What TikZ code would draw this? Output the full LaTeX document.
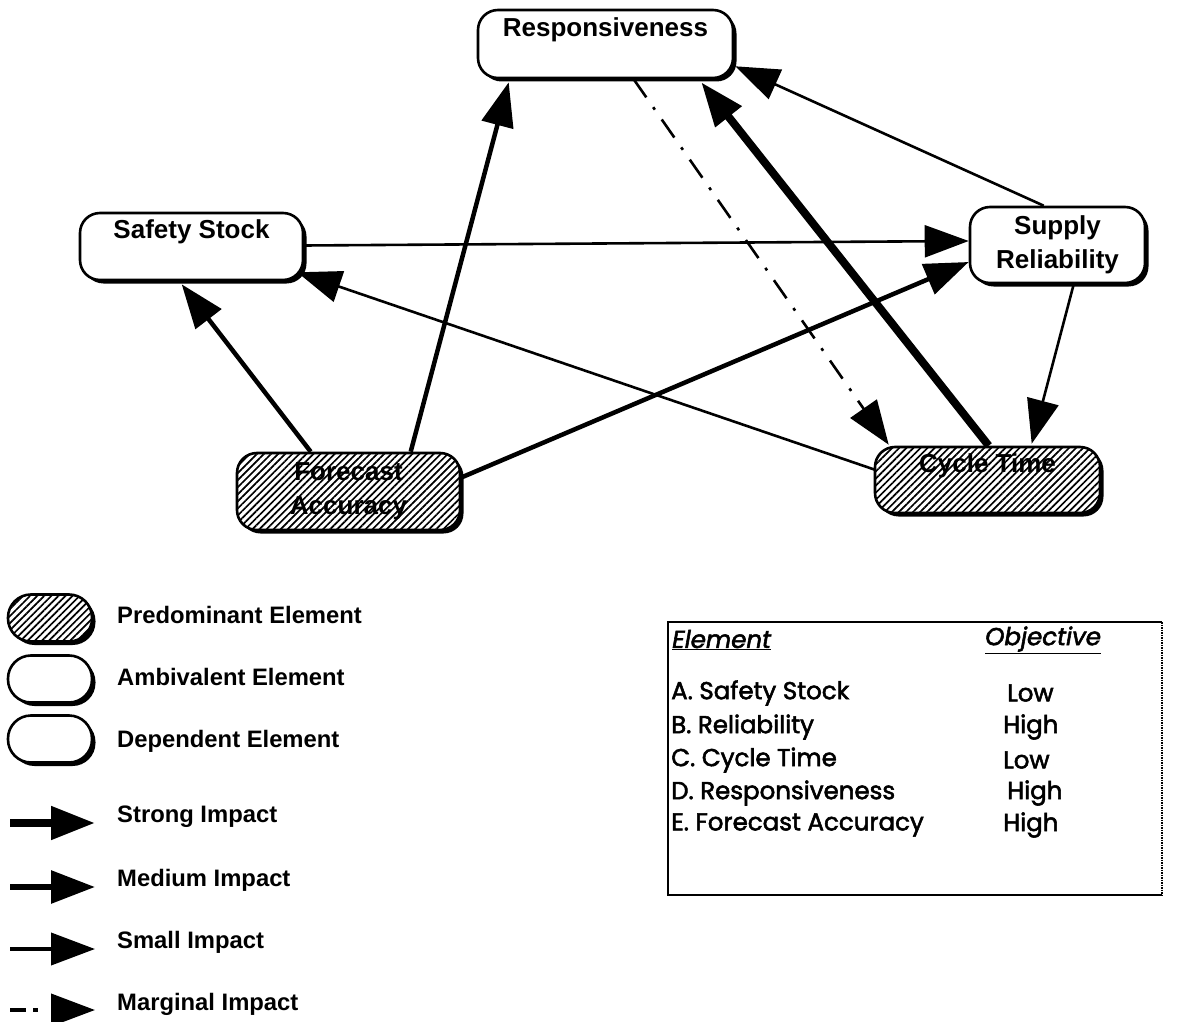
\documentclass[tikz,border=0pt]{standalone}
\usepackage{fontspec}
\setmainfont{Liberation Sans}
\newfontfamily\gothic[FakeBold=2.2]{Poppins}
\usetikzlibrary{arrows.meta,shadows,patterns.meta,calc}
\begin{document}
\begin{tikzpicture}[x=1pt,y=-1pt,
  box/.style={draw, line width=2.6pt, rounded corners=20pt, fill=white,
    drop shadow={shadow xshift=3.5pt, shadow yshift=-3.5pt, fill=black, opacity=1},
    font=\bfseries\fontsize{26}{34}\selectfont, align=center, inner sep=0pt},
  oval/.style={box, minimum width=84pt, minimum height=47pt, rounded corners=23pt},
  hatch/.style={postaction={pattern={Lines[angle=45,distance=5pt,line width=1.7pt]}}},
  tipend/.style={-{Triangle[length=44pt,width=32pt]}},
  strong/.style={tipend, line width=8pt},
  medium/.style={tipend, line width=4.5pt},
  small/.style={tipend, line width=2.6pt},
  marginal/.style={tipend, line width=2.6pt, dash pattern=on 22pt off 12pt on 3pt off 12pt},
  legtext/.style={anchor=west, inner sep=0pt, font=\bfseries\fontsize{23.8}{28}\selectfont},
  tabtext/.style={anchor=west, inner sep=0pt, font=\gothic\fontsize{24.5}{28}\selectfont}
]
\useasboundingbox (0,0) rectangle (1187,1022);

% main nodes
\node[box, minimum width=255pt, minimum height=68pt] (resp) at (605.5,44) {Responsiveness\\~};
\node[box, minimum width=223pt, minimum height=67pt] (ss) at (191.5,246.5) {Safety Stock\\~};
\node[box, minimum width=175pt, minimum height=76pt] (sr) at (1057.5,245) {Supply\\Reliability};
\node[box, hatch, minimum width=223pt, minimum height=77pt] (fa) at (348.5,491.5) {Forecast\\Accuracy};
\node[box, hatch, minimum width=225pt, minimum height=66pt] (ct) at (987.5,480) {Cycle Time\\~};

% connectors
\draw[medium] ($(fa.north west)+(75,0)$) -- ($(ss.south west)+(103,3)$);
\draw[medium] ($(fa.north west)+(175,0)$) -- ($(resp.south west)+(32,3)$);
\draw[medium] ($(fa.east)+(0,-14)$) -- ($(sr.west)+(0,17)$);
\draw[small] ($(ct.west)+(2,-10)$) -- ($(ss.south east)+(-7,-9)$);
\draw[small] ($(ss.east)+(0,-1)$) -- ($(sr.west)+(0,-4)$);
\draw[small] ($(sr.north west)+(75,0)$) -- ($(resp.south east)+(1,-13)$);
\draw[strong] ($(ct.north west)+(115,0)$) -- ($(resp.south east)+(-33,3)$);
\draw[marginal] ($(resp.south west)+(157,0)$) -- ($(ct.north west)+(15,-1)$);
\draw[small] ($(sr.south west)+(105,0)$) -- ($(ct.north west)+(158,-2)$);

% legend: elements
\node[oval, hatch] (lg1) at (50,618) {};
\node[oval] (lg2) at (50,679) {};
\node[oval] (lg3) at (50,739) {};
\node[legtext] (lt1) at (117,615) {Predominant Element};
\node[legtext] (lt2) at (117,677) {Ambivalent Element};
\node[legtext] (lt3) at (117,741) {Dependent Element};

% legend: impacts
\coordinate (a1) at (10,823); \coordinate (b1) at (95,823);
\coordinate (a2) at (10,887); \coordinate (b2) at (95,887);
\coordinate (a3) at (10,949); \coordinate (b3) at (95,949);
\coordinate (a4) at (10,1010); \coordinate (b4) at (95,1010);
\draw[strong] (a1) -- (b1);
\draw[medium, line width=6pt] (a2) -- (b2);
\draw[small, line width=4pt] (a3) -- (b3);
\draw[tipend, line width=4pt, dash pattern=on 16pt off 7pt on 5pt off 30pt] (a4) -- (b4);
\node[legtext] (lt4) at (117,817) {Strong Impact};
\node[legtext] (lt5) at (117,880) {Medium Impact};
\node[legtext] (lt6) at (117,942) {Small Impact};
\node[legtext] (lt7) at (117,1004) {Marginal Impact};

% table
\coordinate (t1) at (668,622); \coordinate (t2) at (1162,622);
\coordinate (t3) at (1162,895); \coordinate (t4) at (668,895);
\draw[line width=2.8pt] (t2) -- (t1) -- (t4) -- (t3);
\draw[line width=1.5pt, densely dotted] (t2) -- (t3);
\node[tabtext] (h1) at (672,640) {\itshape\underline{Element}};
\node[tabtext] (h2) at (985,640) {\itshape\underline{Objective}};
\node[tabtext] (r1) at (671,693) {A. Safety Stock};
\node[tabtext] (r2) at (671,727) {B. Reliability};
\node[tabtext] (r3) at (671,760) {C. Cycle Time};
\node[tabtext] (r4) at (671,793) {D. Responsiveness};
\node[tabtext] (r5) at (671,825) {E. Forecast Accuracy};
\node[tabtext] (v1) at (1007,693) {Low};
\node[tabtext] (v2) at (1003,727) {High};
\node[tabtext] (v3) at (1003,760) {Low};
\node[tabtext] (v4) at (1007,793) {High};
\node[tabtext] (v5) at (1003,825) {High};
\end{tikzpicture}
\end{document}
